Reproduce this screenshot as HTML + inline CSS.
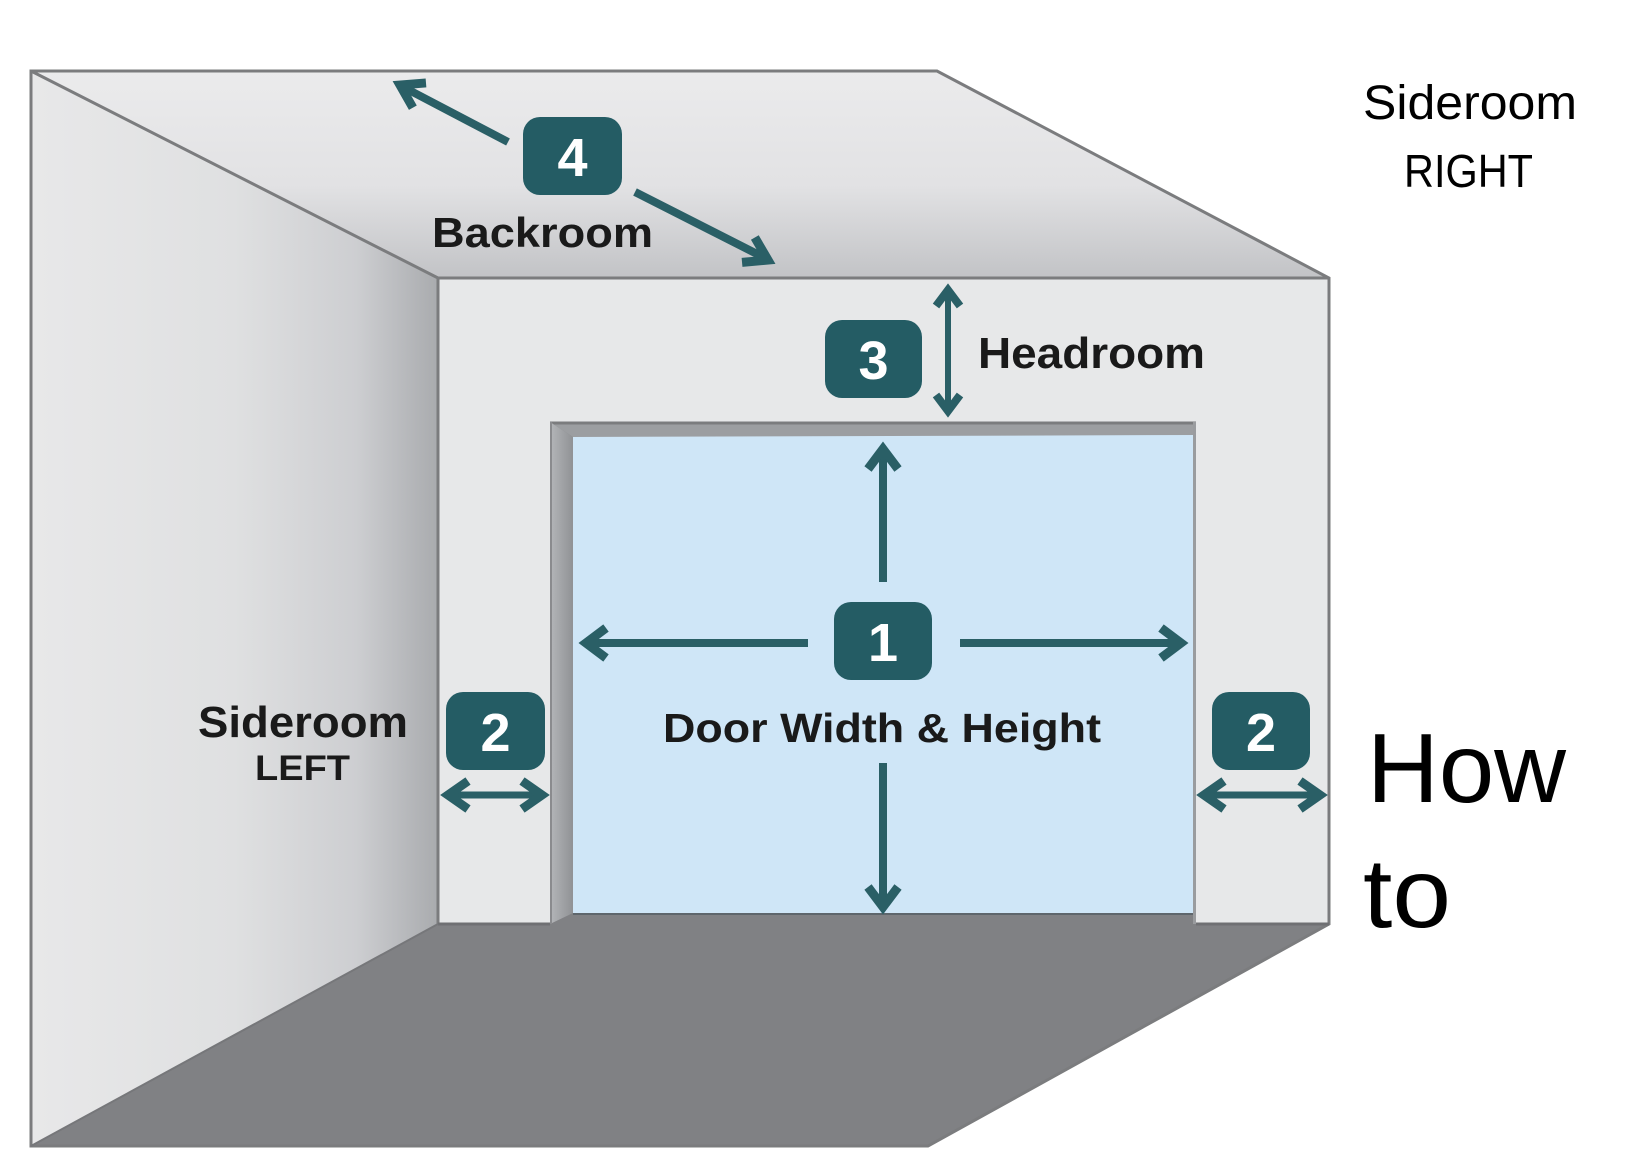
<!DOCTYPE html>
<html><head><meta charset="utf-8">
<style>
html,body{margin:0;padding:0;background:#fff;}
svg{display:block;}
text{font-family:"Liberation Sans",Arial,sans-serif;}
</style></head>
<body>
<svg width="1628" height="1158" viewBox="0 0 1628 1158" xmlns="http://www.w3.org/2000/svg">
<defs>
<linearGradient id="lw" x1="0" y1="0" x2="1" y2="0">
 <stop offset="0" stop-color="#e8e8e9"/>
 <stop offset="0.5" stop-color="#dfe0e1"/>
 <stop offset="0.8" stop-color="#cdced1"/>
 <stop offset="1" stop-color="#a9abae"/>
</linearGradient>
<linearGradient id="ceil" x1="0" y1="0" x2="0" y2="1">
 <stop offset="0" stop-color="#ebebec"/>
 <stop offset="0.55" stop-color="#e2e2e4"/>
 <stop offset="1" stop-color="#c2c3c6"/>
</linearGradient>
<linearGradient id="jamb" x1="0" y1="0" x2="1" y2="0">
 <stop offset="0" stop-color="#b4b6b9"/>
 <stop offset="1" stop-color="#909295"/>
</linearGradient>
</defs>

<!-- ceiling -->
<polygon points="31,71 937,71 1329,278 438,278" fill="url(#ceil)"/>
<!-- left wall -->
<polygon points="31,71 438,278 438,924 31,1146" fill="url(#lw)"/>
<!-- back wall -->
<rect x="438" y="278" width="891" height="646" fill="#e7e8e9"/>
<!-- floor -->
<polygon points="438,924 1329,924 928,1146 31,1146" fill="#808184"/>

<!-- door opening -->
<rect x="550" y="422" width="646" height="502" fill="#808184"/>
<rect x="573" y="435" width="620" height="479" fill="#cfe6f7"/>
<polygon points="550,422 1196,422 1196,435 573,437" fill="#9c9ea1"/>
<line x1="550" y1="423" x2="1196" y2="423" stroke="#7b7c7e" stroke-width="3"/>
<polygon points="550,422 573,437 573,913 550,924" fill="url(#jamb)"/>
<line x1="1194.5" y1="422" x2="1194.5" y2="924" stroke="#9a9c9f" stroke-width="3"/>
<line x1="573" y1="914" x2="1193" y2="914" stroke="#5e666c" stroke-width="2"/>
<line x1="551" y1="422" x2="551" y2="924" stroke="#8a8b8e" stroke-width="2"/>

<!-- outlines -->
<g fill="none" stroke="#7b7c7e" stroke-width="3">
<path d="M31,71 H937 L1329,278 V924 L928,1146 H31 Z"/>
<path d="M31,71 L438,278 H1329"/>
<path d="M438,278 V924"/>
<path d="M438,924 H550 M1196,924 H1329" stroke="#6f7073"/>
<path d="M438,924 L31,1146" stroke="#76777a" stroke-width="2"/>
</g>

<!-- arrows -->
<g stroke="#2a5f66" fill="none" stroke-linejoin="miter" stroke-miterlimit="10">
 <!-- door vertical -->
 <line x1="883" y1="582" x2="883" y2="452" stroke-width="8"/>
 <polyline points="868,469 883,449 898,469" stroke-width="9"/>
 <line x1="883" y1="763" x2="883" y2="903" stroke-width="8"/>
 <polyline points="868,887 883,907 898,887" stroke-width="9"/>
 <!-- door horizontal -->
 <line x1="808" y1="643" x2="590" y2="643" stroke-width="8"/>
 <polyline points="606,628 586,643 606,658" stroke-width="9"/>
 <line x1="960" y1="643" x2="1176" y2="643" stroke-width="8"/>
 <polyline points="1161,628 1181,643 1161,658" stroke-width="9"/>
 <!-- headroom -->
 <line x1="948" y1="292" x2="948" y2="409" stroke-width="6"/>
 <polyline points="936,306 948,290 960,306" stroke-width="8"/>
 <polyline points="936,395 948,411 960,395" stroke-width="8"/>
 <!-- sideroom left -->
 <line x1="450" y1="795" x2="540" y2="795" stroke-width="7"/>
 <polyline points="468,781 448,795 468,809" stroke-width="9"/>
 <polyline points="522,781 542,795 522,809" stroke-width="9"/>
 <!-- sideroom right -->
 <line x1="1206" y1="795" x2="1318" y2="795" stroke-width="7"/>
 <polyline points="1224,781 1204,795 1224,809" stroke-width="9"/>
 <polyline points="1300,781 1320,795 1300,809" stroke-width="9"/>
 <!-- backroom -->
 <line x1="508" y1="142" x2="405" y2="88" stroke-width="8"/>
 <polyline points="-22,-14 0,0 -22,14" stroke-width="9" transform="translate(400,85) rotate(-152.04)"/>
 <line x1="635" y1="192" x2="761" y2="256" stroke-width="8"/>
 <polyline points="-22,-14 0,0 -22,14" stroke-width="9" transform="translate(768,260) rotate(27.2)"/>
</g>

<!-- badges -->
<g fill="#245c64">
 <rect x="523" y="117" width="99" height="78" rx="17"/>
 <rect x="825" y="320" width="97" height="78" rx="17"/>
 <rect x="834" y="602" width="98" height="78" rx="17"/>
 <rect x="446" y="692" width="99" height="78" rx="17"/>
 <rect x="1212" y="692" width="98" height="78" rx="17"/>
</g>
<g fill="#ffffff" font-size="54" font-weight="bold" text-anchor="middle">
 <text x="572.5" y="176">4</text>
 <text x="873.5" y="379">3</text>
 <text x="883" y="661">1</text>
 <text x="495.5" y="751">2</text>
 <text x="1261" y="751">2</text>
</g>

<!-- diagram labels -->
<g fill="#1a1a1a" font-weight="bold">
 <text x="432" y="247" font-size="42" textLength="221" lengthAdjust="spacingAndGlyphs">Backroom</text>
 <text x="978" y="368" font-size="44" textLength="227" lengthAdjust="spacingAndGlyphs">Headroom</text>
 <text x="663" y="742" font-size="41" textLength="438" lengthAdjust="spacingAndGlyphs">Door Width &amp; Height</text>
 <text x="198" y="737" font-size="44" textLength="210" lengthAdjust="spacingAndGlyphs">Sideroom</text>
 <text x="255" y="780" font-size="35" textLength="95" lengthAdjust="spacingAndGlyphs">LEFT</text>
</g>

<!-- added labels -->
<g fill="#000000">
 <text x="1363" y="119" font-size="48" textLength="214" lengthAdjust="spacingAndGlyphs">Sideroom</text>
 <text x="1404" y="187" font-size="46" textLength="129" lengthAdjust="spacingAndGlyphs">RIGHT</text>
 <text x="1367" y="802" font-size="98" textLength="199" lengthAdjust="spacingAndGlyphs">How</text>
 <text x="1363" y="927" font-size="98" textLength="88" lengthAdjust="spacingAndGlyphs">to</text>
</g>
</svg>
</body></html>
